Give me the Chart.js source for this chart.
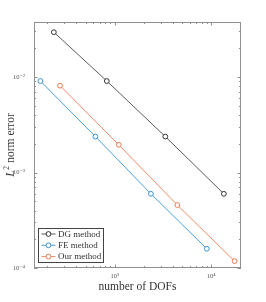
<!DOCTYPE html>
<html lang="en">
<head>
    <meta charset="UTF-8" />
    <title>L2 error vs DOFs</title>
    <script src="https://cdn.jsdelivr.net/npm/chart.js"></script>
    <style>
        html, body {
          margin: 0;
          padding: 0;
          background: white;
        }
        #wrap {
          width: 266px;
          height: 302px;
        }
    </style>
</head>
<body>

<div id="wrap">
    <canvas id="errChart" width="266" height="302"></canvas>
</div>

<script>
    // values
    const dofsDG  = [233, 826, 3340, 13550];
    const errDG   = [0.0295, 0.00908, 0.00238, 0.000598];
    const dofsFE  = [169, 629, 2371, 9020];
    const errFE   = [0.00908, 0.00238, 0.000598, 0.000159];
    const dofsOur = [270, 1100, 4460, 17500];
    const errOur  = [0.00812, 0.00195, 0.000456, 0.000118];

    const seriesNames = ['DG method', 'FE method', 'Our method'];
    const xRange = [145, 20400];
    const yRange = [0.0001, 0.0377];
    const supers = { '-': '⁻', '0': '⁰', '1': '¹', '2': '²', '3': '³', '4': '⁴', '5': '⁵' };

    const serif = '"Liberation Serif", "DejaVu Serif", serif';
    const frameColor = '#8f8f8f';

    function pts(xs, ys) {
      return xs.map((x, i) => ({ x: x, y: ys[i] }));
    }

    function decadeLabel(value) {
      const e = Math.log10(value);
      if (Math.abs(e - Math.round(e)) > 1e-6) return '';
      const s = String(Math.round(e)).split('').map(c => supers[c]).join('');
      return '10' + s;
    }

    // box, inward ticks, y title and legend
    const decor = {
      id: 'decor',
      afterDraw(chart) {
        const ctx = chart.ctx;
        const a = chart.chartArea;
        const xs = chart.scales.x, ys = chart.scales.y;
        ctx.save();
        ctx.strokeStyle = frameColor;
        ctx.lineWidth = 1;
        ctx.strokeRect(a.left + 0.5, a.top + 0.5, a.right - a.left - 1, a.bottom - a.top - 1);

        ctx.beginPath();
        for (let d = 2; d <= 4; d++) {
          for (let m = 1; m <= 9; m++) {
            const v = m * Math.pow(10, d);
            if (v < xRange[0] || v > xRange[1]) continue;
            const px = Math.round(xs.getPixelForValue(v)) + 0.5;
            const len = m === 1 ? 3.5 : 2;
            ctx.moveTo(px, a.bottom); ctx.lineTo(px, a.bottom - len);
            ctx.moveTo(px, a.top); ctx.lineTo(px, a.top + len);
          }
        }
        for (let d = -4; d <= -1; d++) {
          for (let m = 1; m <= 9; m++) {
            const v = m * Math.pow(10, d);
            if (v < yRange[0] || v > yRange[1]) continue;
            const py = Math.round(ys.getPixelForValue(v)) + 0.5;
            const len = m === 1 ? 3.5 : 2;
            ctx.moveTo(a.left, py); ctx.lineTo(a.left + len, py);
            ctx.moveTo(a.right, py); ctx.lineTo(a.right - len, py);
          }
        }
        ctx.stroke();

        // y axis title: italic L with superscript 2
        ctx.translate(11, (a.top + a.bottom) / 2);
        ctx.rotate(-Math.PI / 2);
        ctx.fillStyle = '#333';
        ctx.textBaseline = 'middle';
        const f1 = 'italic 11.5px ' + serif, f2 = '7.5px ' + serif, f3 = '11.5px ' + serif;
        ctx.font = f1; const w1 = ctx.measureText('L').width;
        ctx.font = f2; const w2 = ctx.measureText('2').width;
        ctx.font = f3; const w3 = ctx.measureText(' norm error').width;
        let x0 = -(w1 + w2 + 1 + w3) / 2;
        ctx.font = f1; ctx.fillText('L', x0, 0);
        ctx.font = f2; ctx.fillText('2', x0 + w1 + 0.5, -4);
        ctx.font = f3; ctx.fillText(' norm error', x0 + w1 + w2 + 1, 0);
        ctx.setTransform(1, 0, 0, 1, 0, 0);

        // legend box in the lower left
        const lx = 38.5, ly = 228.5, lw = 65, lh = 34;
        ctx.fillStyle = 'white';
        ctx.fillRect(lx, ly, lw, lh);
        ctx.strokeStyle = '#444';
        ctx.strokeRect(lx, ly, lw, lh);
        ctx.font = '9px ' + serif;
        ctx.textBaseline = 'middle';
        chart.data.datasets.forEach((ds, i) => {
          const ry = ly + 5.5 + i * 11.3;
          ctx.strokeStyle = ds.borderColor;
          ctx.lineWidth = 1;
          ctx.beginPath();
          ctx.moveTo(lx + 3, ry); ctx.lineTo(lx + 17, ry);
          ctx.stroke();
          ctx.beginPath();
          ctx.arc(lx + 10, ry, 2.4, 0, Math.PI * 2);
          ctx.fillStyle = 'white';
          ctx.fill();
          ctx.strokeStyle = ds.pointBorderColor;
          ctx.stroke();
          ctx.fillStyle = '#333';
          ctx.fillText(ds.label, lx + 19.5, ry + 0.5);
        });
        ctx.restore();
      }
    };

    function series(label, xs, ys, line, mark) {
      return {
        label: label,
        data: pts(xs, ys),
        showLine: true,
        borderColor: line,
        borderWidth: 1,
        pointRadius: 2.4,
        pointBorderWidth: 1,
        pointBorderColor: mark,
        pointBackgroundColor: 'white'
      };
    }

    const ctx = document.getElementById('errChart').getContext('2d');
    new Chart(ctx, {
      type: 'scatter',
      data: {
        datasets: [
          series(seriesNames[0], dofsDG, errDG, '#5a5a5a', '#333333'),
          series(seriesNames[1], dofsFE, errFE, '#4c9fd9', '#3a93d2'),
          series(seriesNames[2], dofsOur, errOur, '#ef8c66', '#e97a52')
        ]
      },
      options: {
        responsive: false,
        animation: false,
        layout: { padding: { top: 22, right: 25, left: 0, bottom: 0 } },
        plugins: {
          legend: { display: false },
          tooltip: { enabled: false }
        },
        scales: {
          x: {
            type: 'logarithmic',
            min: xRange[0],
            max: xRange[1],
            grid: { display: false, drawTicks: false },
            border: { display: false },
            afterFit(s) { s.height = 34; },
            ticks: {
              autoSkip: false,
              maxRotation: 0,
              padding: 4,
              color: '#555',
              font: { family: serif, size: 6.5 },
              callback: v => decadeLabel(v)
            },
            title: {
              display: true,
              text: 'number of DOFs',
              color: '#333',
              font: { family: serif, size: 11.5 },
              padding: { top: 0, bottom: 8 }
            }
          },
          y: {
            type: 'logarithmic',
            min: yRange[0],
            max: yRange[1],
            grid: { display: false, drawTicks: false },
            border: { display: false },
            afterFit(s) { s.width = 34; },
            ticks: {
              autoSkip: false,
              padding: 9,
              color: '#555',
              font: { family: serif, size: 6.5 },
              callback: v => decadeLabel(v)
            }
          }
        }
      },
      plugins: [decor]
    });
</script>

</body>
</html>
